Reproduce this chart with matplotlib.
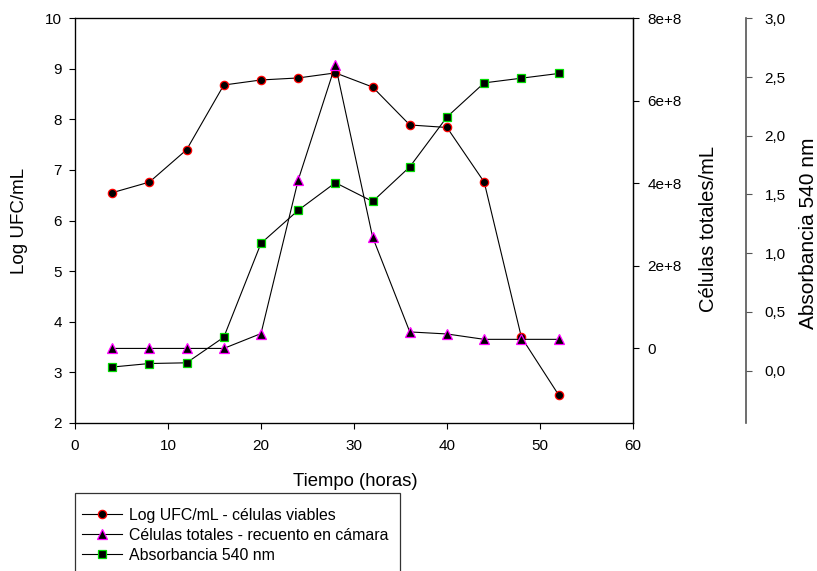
import matplotlib
matplotlib.use("Agg")
import matplotlib.pyplot as plt
from matplotlib.ticker import FuncFormatter, MultipleLocator
from matplotlib.patches import Rectangle

plt.rcParams['font.family'] = ['Liberation Sans', 'DejaVu Sans']

# Data
tiempo = [4, 8, 12, 16, 20, 24, 28, 32, 36, 40, 44, 48, 52]
log_ufc = [6.55, 6.76, 7.40, 8.68, 8.78, 8.82, 8.92, 8.64, 7.89, 7.84, 6.76, 3.69, 2.55]
celulas = [0.0, 0.0, 0.0, 0.0, 0.36e8, 4.08e8, 6.87e8, 2.70e8, 0.40e8, 0.35e8, 0.22e8, 0.22e8, 0.22e8]
absorb = [0.03, 0.06, 0.066, 0.284, 1.084, 1.365, 1.60, 1.44, 1.735, 2.16, 2.45, 2.49, 2.53]

lbl_ufc = 'Log UFC/mL - células viables'
lbl_cel = 'Células totales - recuento en cámara'
lbl_abs = 'Absorbancia 540 nm'

W, H = 817, 571
fig = plt.figure(figsize=(W / 100, H / 100), dpi=100)
L, R, T, B = 75, 633, 18.3, 422.7
ax = fig.add_axes([L / W, 1 - B / H, (R - L) / W, (B - T) / H])
ax2 = ax.twinx()
ax3 = ax.twinx()

lw = 0.8
ms = 6
tfs = 11
l1, = ax.plot(tiempo, log_ufc, color='black', lw=lw, marker='o', ms=ms,
              mfc='black', mec='red', mew=0.9, label=lbl_ufc)
l2, = ax2.plot(tiempo, celulas, color='black', lw=lw, marker='^', ms=ms + 0.5,
               mfc='black', mec='magenta', mew=0.9, label=lbl_cel)
l3, = ax3.plot(tiempo, absorb, color='black', lw=lw, marker='s', ms=ms - 0.6,
               mfc='black', mec='#00dd00', mew=0.9, label=lbl_abs)

# Main axes
ax.set_xlim(0, 60)
ax.set_ylim(2, 10)
ax.xaxis.set_major_locator(MultipleLocator(10))
ax.yaxis.set_major_locator(MultipleLocator(1))
for s in ['left', 'bottom', 'top', 'right']:
    ax.spines[s].set_linewidth(0.9)
ax.tick_params(axis='both', direction='out', length=4.5, width=0.8, labelsize=tfs)
ax.tick_params(axis='x', pad=7.5)
ax.tick_params(axis='y', pad=5)
ax.set_xlabel('Tiempo (horas)', fontsize=13.3)
ax.xaxis.set_label_coords((355 - L) / (R - L), (B - 473) / (B - T))
ax.set_ylabel('Log UFC/mL', fontsize=13.5, va='center', ha='center')
ax.yaxis.set_label_coords((20 - L) / (R - L), 0.5)

# Second axis
ax2.set_ylim(-1.8e8, 8e8)
ax2.set_yticks([0, 2e8, 4e8, 6e8, 8e8])
ax2.yaxis.set_major_formatter(FuncFormatter(lambda v, p: '0' if v == 0 else f'{v / 1e8:.0f}e+8'))
ax2.tick_params(axis='y', direction='out', length=4.5, width=0.8, labelsize=tfs, pad=6)
ax2.spines['right'].set_linewidth(0.9)
ax2.set_ylabel('Células totales/mL', fontsize=14.5, va='center', ha='center')
ax2.yaxis.set_label_coords((708 - L) / (R - L), (B - 229) / (B - T))

# Third axis
ax3.spines['right'].set_position(('axes', (745.7 - L) / (R - L)))
for s in ['left', 'top', 'bottom']:
    ax3.spines[s].set_visible(False)
ax3.spines['right'].set_color('#555555')
ax3.spines['right'].set_linewidth(1.2)
ax3.set_ylim(-0.444, 3.0)
ax3.yaxis.set_major_locator(MultipleLocator(0.5))
ax3.yaxis.set_major_formatter(FuncFormatter(lambda v, p: f'{v:.1f}'.replace('.', ',')))
ax3.tick_params(axis='y', direction='out', length=4.5, width=0.8, labelsize=tfs, pad=9,
                color='#555555')
ax3.set_ylabel('Absorbancia 540 nm', fontsize=15, va='center', ha='center')
ax3.yaxis.set_label_coords((809 - L) / (R - L), (B - 233) / (B - T))

# Legend
fig.add_artist(Rectangle((75 / W, -0.05), (400 - 75) / W, 0.05 + 1 - 493 / H,
                         transform=fig.transFigure, fill=False, ec='#333333', lw=0.9))
fig.legend(handles=[l1, l2, l3], loc='upper left', bbox_to_anchor=(82 / W, 1 - 508 / H),
           frameon=False, fontsize=11.4, borderpad=0, borderaxespad=0,
           handlelength=2.55, handletextpad=0.43, labelspacing=0.3)

fig.savefig('out.png', dpi=100)
